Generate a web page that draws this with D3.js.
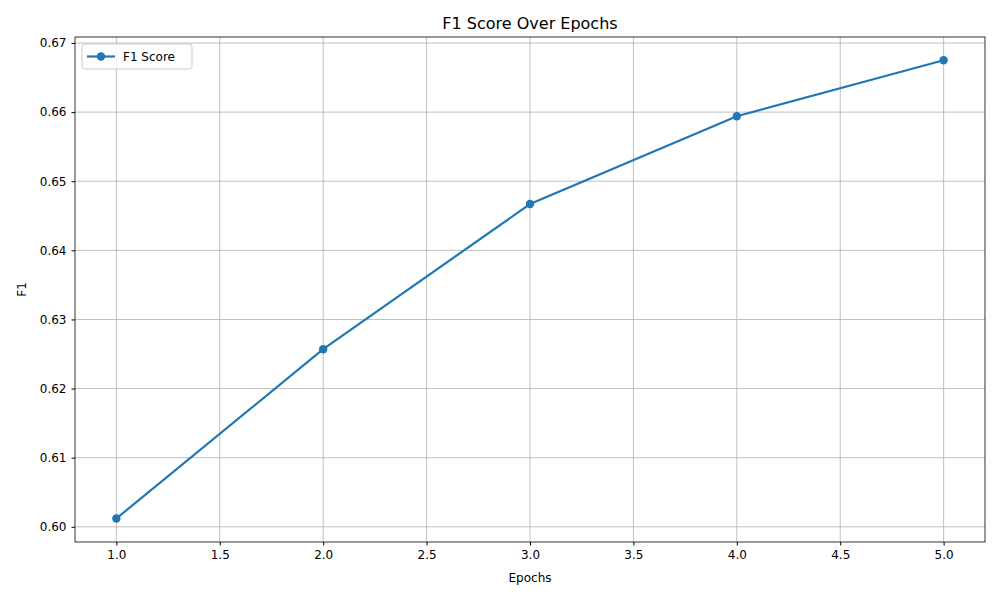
<!DOCTYPE html>
<html>
<head>
<meta charset="utf-8">
<script src="https://cdn.jsdelivr.net/npm/d3@7"></script>
<style>
  body { margin: 0; background: #fff; }
  text { font-family: "DejaVu Sans", sans-serif; }
</style>
</head>
<body>
<div id="chart"></div>
<script>
// data
const epochs = [1, 2, 3, 4, 5];
const f1Scores = [0.6012, 0.6257, 0.6467, 0.6594, 0.6675];
const xTicks = [1.0, 1.5, 2.0, 2.5, 3.0, 3.5, 4.0, 4.5, 5.0];
const yTicks = [0.60, 0.61, 0.62, 0.63, 0.64, 0.65, 0.66, 0.67];

const W = 1000, H = 600;
const margin = { top: 37, right: 15, bottom: 58, left: 75 };
const width = W - margin.left - margin.right;
const height = H - margin.top - margin.bottom;
const color = "#1f77b4";

const svg = d3.select("#chart").append("svg")
    .attr("width", W).attr("height", H);
const g = svg.append("g").attr("transform", `translate(${margin.left},${margin.top})`);

const x = d3.scaleLinear().domain([0.8, 5.2]).range([0, width]);
const y = d3.scaleLinear().domain([0.5978, 0.67087]).range([height, 0]);

// grid
g.selectAll(".vgrid").data(xTicks).join("line")
    .attr("x1", d => x(d)).attr("x2", d => x(d))
    .attr("y1", 0).attr("y2", height)
    .attr("stroke", "#b0b0b0").attr("stroke-width", 0.8);
g.selectAll(".hgrid").data(yTicks).join("line")
    .attr("x1", 0).attr("x2", width)
    .attr("y1", d => y(d)).attr("y2", d => y(d))
    .attr("stroke", "#b0b0b0").attr("stroke-width", 0.8);

// axes
const xAxis = g.append("g").attr("transform", `translate(0,${height})`)
    .call(d3.axisBottom(x).tickValues(xTicks).tickFormat(d3.format(".1f")).tickSize(3.5).tickPadding(5));
const yAxis = g.append("g")
    .call(d3.axisLeft(y).tickValues(yTicks).tickFormat(d3.format(".2f")).tickSize(3.5).tickPadding(5));
[xAxis, yAxis].forEach(a => {
  a.select(".domain").remove();
  a.selectAll("text").attr("font-size", 12).attr("fill", "#000").attr("font-family", "DejaVu Sans");
  a.selectAll("line").attr("stroke", "#000");
});

// frame
g.append("rect").attr("width", width).attr("height", height)
    .attr("fill", "none").attr("stroke", "#000").attr("stroke-width", 0.8);

// line
const pts = epochs.map((e, i) => ({ e, v: f1Scores[i] }));
g.append("path").datum(pts)
    .attr("fill", "none").attr("stroke", color).attr("stroke-width", 2.2)
    .attr("d", d3.line().x(d => x(d.e)).y(d => y(d.v)));
g.selectAll(".pt").data(pts).join("circle")
    .attr("cx", d => x(d.e)).attr("cy", d => y(d.v)).attr("r", 4.2).attr("fill", color);

// titles
svg.append("text").attr("x", margin.left + width / 2).attr("y", 29)
    .attr("text-anchor", "middle").attr("font-size", 16).text("F1 Score Over Epochs");
svg.append("text").attr("x", margin.left + width / 2).attr("y", 582)
    .attr("text-anchor", "middle").attr("font-size", 12).text("Epochs");
svg.append("text").attr("transform", `translate(26,${margin.top + height / 2}) rotate(-90)`)
    .attr("text-anchor", "middle").attr("font-size", 12).text("F1");

// legend
const lg = g.append("g").attr("transform", "translate(7,7)");
lg.append("rect").attr("width", 110).attr("height", 25).attr("rx", 3)
    .attr("fill", "#fff").attr("fill-opacity", 0.8).attr("stroke", "#ccc");
lg.append("line").attr("x1", 5).attr("x2", 33).attr("y1", 12.5).attr("y2", 12.5)
    .attr("stroke", color).attr("stroke-width", 2.2);
lg.append("circle").attr("cx", 19).attr("cy", 12.5).attr("r", 4.2).attr("fill", color);
lg.append("text").attr("x", 41).attr("y", 17).attr("font-size", 12).text("F1 Score");
</script>
</body>
</html>
